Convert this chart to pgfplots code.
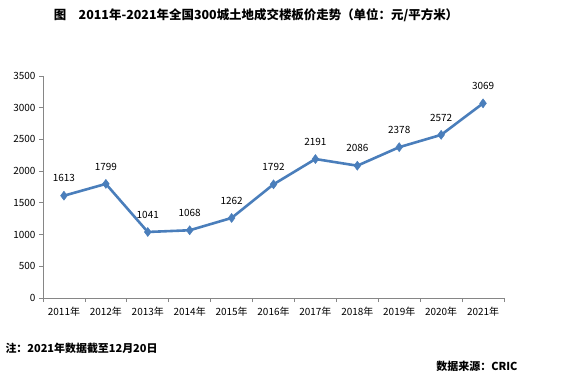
\documentclass[border=0pt]{standalone}
\usepackage{fontspec}
\setmainfont{Noto Sans CJK SC}
\usepackage{pgfplots}
\pgfplotsset{compat=1.18}
\definecolor{lineblue}{HTML}{4A7EBB}
\definecolor{axisgray}{HTML}{868686}
\begin{document}
\begin{tikzpicture}[x=1bp,y=1bp]
\path[use as bounding box] (0,0) rectangle (577,377);
\begin{axis}[
  at={(43bp,79bp)}, anchor=south west,
  scale only axis, width=461bp, height=222bp,
  xmin=-0.5, xmax=10.5, ymin=0, ymax=3500,
  axis x line*=bottom, axis y line*=left,
  axis line style={axisgray, line width=0.8pt, -},
  xtick={0,...,10},
  xticklabels={2011年,2012年,2013年,2014年,2015年,2016年,2017年,2018年,2019年,2020年,2021年},
  major x tick style={draw=none},
  minor xtick={-0.5,0.5,...,10.5},
  minor x tick style={axisgray, line width=0.8pt},
  minor tick length=4bp,
  ytick={0,500,...,3500},
  major tick length=4bp,
  y tick style={axisgray, line width=0.8pt},
  tick align=outside,
  tick label style={font=\fontsize{10}{12}\selectfont, black},
  /pgf/number format/assume math mode=true,
  yticklabel style={/pgf/number format/1000 sep={}},
  xticklabel style={yshift=-2bp},
  nodes near coords,
  every node near coord/.append style={font=\fontsize{10}{12}\selectfont, black, yshift=10bp},
  point meta=explicit symbolic,
]
\addplot[color=lineblue, line width=2.6pt, mark=diamond*, mark size=4.5bp, mark options={fill=lineblue, draw=lineblue, line width=0.5pt}]
coordinates {
(0,1613) [1613]
(1,1799) [1799]
(2,1041) [1041]
(3,1068) [1068]
(4,1262) [1262]
(5,1792) [1792]
(6,2191) [2191]
(7,2086) [2086]
(8,2378) [2378]
(9,2572) [2572]
(10,3069) [3069]
};
\end{axis}
\node[font=\fontsize{12.5}{14}\selectfont\bfseries] at (256,362) {图\quad 2011年-2021年全国300城土地成交楼板价走势（单位：元/平方米）};
\node[anchor=west, font=\fontsize{11}{13}\selectfont\bfseries] at (2,29) {注：2021年数据截至12月20日};
\node[anchor=east, font=\fontsize{11}{13}\selectfont\bfseries] at (521,11) {数据来源：CRIC};
\end{tikzpicture}
\end{document}
